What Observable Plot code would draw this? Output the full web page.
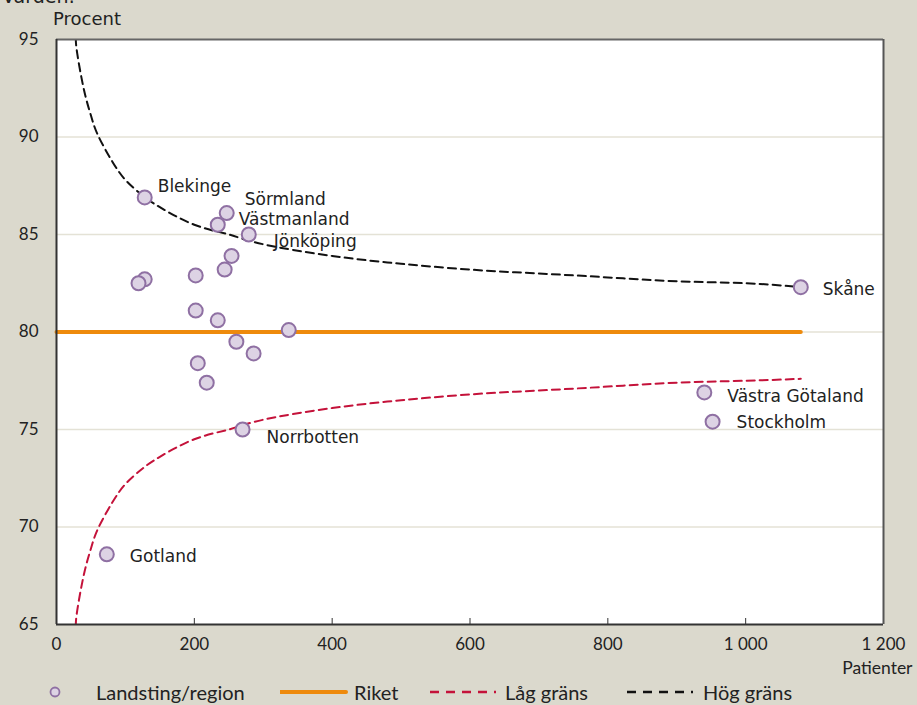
<!DOCTYPE html>
<html>
<head>
<meta charset="utf-8">
<script src="https://cdn.jsdelivr.net/npm/d3@7"></script>
<script src="https://cdn.jsdelivr.net/npm/@observablehq/plot@0.6"></script>
<style>
  html, body { margin: 0; padding: 0; background: #dbd9cd; }
  #wrap { position: relative; width: 917px; height: 705px; overflow: hidden; background: #dbd9cd; }
  #title { position: absolute; left: 2px; top: -15px; font-family: "DejaVu Sans", sans-serif; font-size: 19px; color: #222; }
  #ylabel { position: absolute; left: 53px; top: 8px; font-family: "DejaVu Sans", sans-serif; font-size: 18px; line-height: 22px; color: #222; }
  #chart { position: absolute; left: 0; top: 0; }
  #legend { position: absolute; left: 0; top: 680px; width: 917px; height: 25px; font-family: "Lato", sans-serif; font-size: 20px; color: #222; }
  .li { position: absolute; top: 0px; display: flex; align-items: center; height: 24px; }
</style>
</head>
<body>
<div id="wrap">
  <div id="title">Värden:</div>
  <div id="chart"></div>
  <div id="ylabel">Procent</div>
  <div id="legend"></div>
</div>
<script>
// ---- Data ----
const regions = ["Blekinge","Sörmland","Västmanland","Jönköping","","","","","","","","","","","","","Norrbotten","Gotland","Skåne","Västra Götaland","Stockholm"];
const patients = [128, 247, 234, 279, 254, 244, 202, 128, 119, 202, 234, 337, 261, 286, 205, 218, 270, 73, 1080, 940, 952];
const percent  = [86.9, 86.1, 85.5, 85.0, 83.9, 83.2, 82.9, 82.7, 82.5, 81.1, 80.6, 80.1, 79.5, 78.9, 78.4, 77.4, 75.0, 68.6, 82.3, 76.9, 75.4];

const rikeN = [0, 1080];
const rikeValue = [80.0, 80.0];

const limitN    = [28, 30, 40, 50, 60, 80, 100, 125, 150, 200, 250, 300, 400, 500, 600, 700, 800, 900, 1000, 1080];
const highLimit = [95.1, 94.3, 92.4, 91.1, 90.1, 88.8, 87.8, 87.0, 86.4, 85.5, 85.0, 84.5, 83.9, 83.5, 83.2, 83.0, 82.8, 82.6, 82.5, 82.3];
const lowLimit  = [64.9, 65.7, 67.6, 68.9, 69.9, 71.2, 72.2, 73.0, 73.6, 74.5, 75.0, 75.5, 76.1, 76.5, 76.8, 77.0, 77.2, 77.4, 77.5, 77.6];

const xTicks = [0, 200, 400, 600, 800, 1000, 1200];
const yTicks = [65, 70, 75, 80, 85, 90, 95];
const gridY  = [70, 75, 80, 85, 90];

// label layout offsets (pixels)
const labelOffsets = {
  "Blekinge": [13, -11], "Sörmland": [18, -14], "Västmanland": [21, -5], "Jönköping": [25, 7],
  "Norrbotten": [24, 8], "Gotland": [23, 2], "Skåne": [22, 2], "Västra Götaland": [23, 4], "Stockholm": [24, 1]
};

// ---- Build tables ----
const points = patients.map((n, i) => ({n, p: percent[i], name: regions[i]}));
const labeled = points.filter(d => d.name);
const rike = rikeN.map((n, i) => ({n, v: rikeValue[i]}));
const high = limitN.map((n, i) => ({n, v: highLimit[i]}));
const low = limitN.map((n, i) => ({n, v: lowLimit[i]}));

const fmt = d => d3.format(",")(d).replace(/,/g, " ");

const chart = Plot.plot({
  width: 917,
  height: 680,
  marginTop: 39,
  marginLeft: 56,
  marginRight: 34,
  marginBottom: 56,
  style: { background: "transparent", fontFamily: "Lato, sans-serif", fontSize: "16px", color: "#222" },
  x: { domain: [0, 1200] },
  y: { domain: [65, 95] },
  marks: [
    Plot.frame({ fill: "white", stroke: null }),
    Plot.ruleY(gridY, { stroke: "#e4e2d6", strokeWidth: 1.5 }),
    Plot.line(rike, { x: "n", y: "v", stroke: "#ee8a0c", strokeWidth: 4 }),
    Plot.line(low, { x: "n", y: "v", stroke: "#c4123a", strokeWidth: 2, strokeDasharray: "8,5", curve: "natural", clip: true }),
    Plot.line(high, { x: "n", y: "v", stroke: "#111", strokeWidth: 2, strokeDasharray: "8,5", curve: "natural", clip: true }),
    Plot.dot(points, { x: "n", y: "p", r: 7, fill: "#ddd3e4", stroke: "#8f70a3", strokeWidth: 2 }),
    ...labeled.map(d => Plot.text([d], {
      x: "n", y: "p", text: "name", textAnchor: "start",
      dx: labelOffsets[d.name][0], dy: labelOffsets[d.name][1],
      fontFamily: "DejaVu Sans, sans-serif", fontSize: 17, fill: "#222"
    })),
    Plot.axisX(xTicks, { tickSize: 6, dy: -6, tickFormat: () => "", label: null, stroke: "#333" }),
    Plot.axisX(xTicks, { tickSize: 0, tickPadding: 13, tickFormat: fmt, label: null, fontSize: 17 }),
    Plot.axisY(yTicks, { tickSize: 0, tickPadding: 18, label: null, fontSize: 17 }),
    Plot.ruleY([95], { stroke: "#666", strokeWidth: 2 }),
    Plot.ruleY([65], { stroke: "#333", strokeWidth: 2 }),
    Plot.ruleX([0], { stroke: "#333", strokeWidth: 2 }),
    Plot.ruleX([1200], { stroke: "#555", strokeWidth: 2 }),
    Plot.text(["Patienter"], { frameAnchor: "bottom-right", dx: 29, dy: 49, textAnchor: "end", fontSize: 17.5, fontFamily: "Lato, sans-serif" })
  ]
});
document.getElementById("chart").appendChild(chart);

// ---- Legend ----
const legendItems = [
  { label: "Landsting/region", kind: "dot", x: 48, tx: 96 },
  { label: "Riket", kind: "solid", color: "#ee8a0c", x: 280, tx: 354 },
  { label: "Låg gräns", kind: "dash", color: "#c4123a", x: 430, tx: 505 },
  { label: "Hög gräns", kind: "dash", color: "#111", x: 627, tx: 703 }
];
const legend = document.getElementById("legend");
legendItems.forEach(it => {
  const sw = document.createElementNS("http://www.w3.org/2000/svg", "svg");
  sw.setAttribute("width", 70); sw.setAttribute("height", 24);
  sw.style.position = "absolute"; sw.style.left = it.x + "px"; sw.style.top = "0px";
  if (it.kind === "dot") {
    sw.innerHTML = `<circle cx="7" cy="12" r="4.5" fill="#ddd3e4" stroke="#8f70a3" stroke-width="1.8"/>`;
  } else if (it.kind === "solid") {
    sw.innerHTML = `<line x1="0" x2="66" y1="12" y2="12" stroke="${it.color}" stroke-width="4" stroke-linecap="round"/>`;
  } else {
    sw.innerHTML = `<line x1="0" x2="66" y1="12" y2="12" stroke="${it.color}" stroke-width="2.5" stroke-dasharray="9,7"/>`;
  }
  legend.appendChild(sw);
  const t = document.createElement("div");
  t.className = "li"; t.style.left = it.tx + "px"; t.textContent = it.label;
  legend.appendChild(t);
});
</script>
</body>
</html>
